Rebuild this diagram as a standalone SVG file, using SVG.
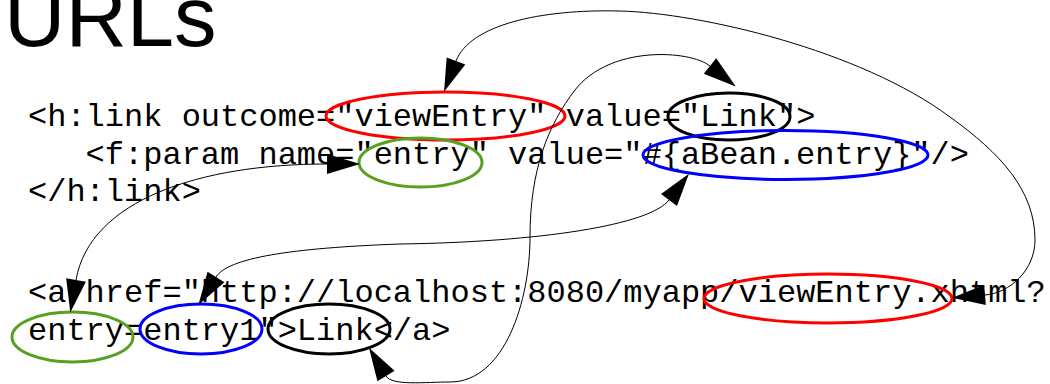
<svg xmlns="http://www.w3.org/2000/svg" width="1050" height="384" viewBox="0 0 1050 384">
<style>
.code{font-family:"Liberation Mono","Courier New",monospace;font-size:32px;fill:#000}
.title{font-family:"Liberation Sans",Arial,sans-serif;font-size:85px;fill:#000}
.ell{fill:none;stroke-width:3}
.red{stroke:#ff0000}.blue{stroke:#0000ff}.green{stroke:#58a020}.black{stroke:#000}
.conn{fill:none;stroke:#000;stroke-width:1;marker-start:url(#ah);marker-end:url(#ah)}
</style>
<defs>
<marker id="ah" markerUnits="userSpaceOnUse" markerWidth="36" markerHeight="22" refX="0" refY="11" orient="auto-start-reverse" overflow="visible">
<path d="M0,1 L33,11 L0,21 z" fill="#000"/>
</marker>
</defs>
<rect width="1050" height="384" fill="#fff"/>
<g id="title"><text class="title" x="4" y="46">URLs</text></g>
<g id="code">
<text class="code" x="28" y="126">&lt;h:link outcome="viewEntry" value="Link"&gt;</text>
<text class="code" x="85.6" y="163.5">&lt;f:param name="entry" value="#{aBean.entry}"/&gt;</text>
<text class="code" x="28" y="201">&lt;/h:link&gt;</text>
<text class="code" x="28" y="302">&lt;a href="http://localhost:8080/myapp/viewEntry.xhtml?</text>
<text class="code" x="28" y="340">entry=entry1"&gt;Link&lt;/a&gt;</text>
</g>
<g id="outcome"><ellipse class="ell red" cx="445.5" cy="116" rx="119.5" ry="24"/></g>
<g id="valueLink"><ellipse class="ell black" cx="729" cy="116.5" rx="61" ry="23.5"/></g>
<g id="paramName"><ellipse class="ell green" cx="420.5" cy="162.5" rx="61.5" ry="24.5"/></g>
<g id="paramValue"><ellipse class="ell blue" cx="785.5" cy="155" rx="142.5" ry="24.5"/></g>
<g id="urlName"><ellipse class="ell green" cx="72.5" cy="337" rx="60.5" ry="25"/></g>
<g id="urlValue"><ellipse class="ell blue" cx="201" cy="329" rx="61" ry="25"/></g>
<g id="urlLink"><ellipse class="ell black" cx="329" cy="329" rx="61" ry="25"/></g>
<g id="urlView"><ellipse class="ell red" cx="828" cy="298.5" rx="124" ry="24.5"/></g>
<g id="connectors">
<path class="conn" d="M456,61 C470,25 540,9 620,11 C700,13 860,50 950,117 C1000,153 1035,190 1035,240 C1035,270 1010,293 985,295"/>
<path class="conn" d="M327,164 C200,164 90,200 76,280"/>
<path class="conn" d="M216,277 C228,258 290,248 400,244 C540,242 650,225 669,200"/>
<path class="conn" d="M710,66 C690,50 610,45 575,90 C548,125 530,170 530,237 C530,300 505,382 450,382 C425,382 392,386 386,376"/>
</g>
</svg>
